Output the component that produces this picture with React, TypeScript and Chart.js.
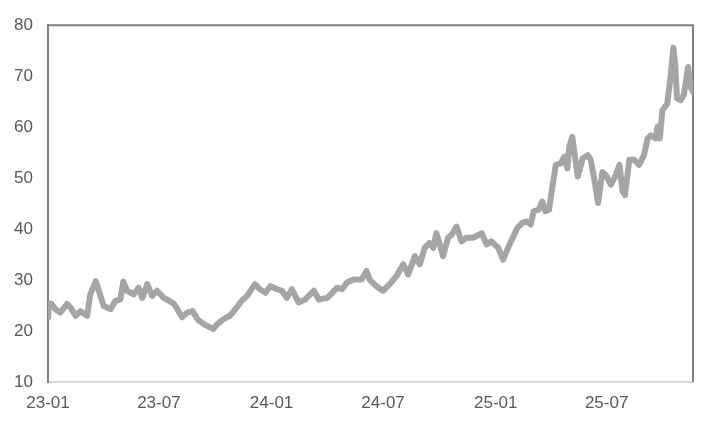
import React, { useEffect, useRef } from "react";
import { Chart, registerables } from "chart.js";

Chart.register(...registerables);

const dates: string[] = [
  "2023-01-01", "2023-01-03", "2023-01-06", "2023-01-13", "2023-01-21", "2023-02-01", "2023-02-07", "2023-02-15",
  "2023-02-23", "2023-03-06", "2023-03-11", "2023-03-20", "2023-03-25", "2023-04-02", "2023-04-13", "2023-04-21",
  "2023-04-29", "2023-05-04", "2023-05-10", "2023-05-21", "2023-05-29", "2023-06-04", "2023-06-12", "2023-06-20",
  "2023-06-28", "2023-07-09", "2023-07-18", "2023-07-26", "2023-08-08", "2023-08-16", "2023-08-25", "2023-09-02",
  "2023-09-13", "2023-09-28", "2023-10-04", "2023-10-14", "2023-10-25", "2023-11-05", "2023-11-13", "2023-11-22",
  "2023-12-05", "2023-12-13", "2023-12-22", "2023-12-30", "2024-01-10", "2024-01-18", "2024-01-26", "2024-02-03",
  "2024-02-14", "2024-02-25", "2024-03-10", "2024-03-18", "2024-04-01", "2024-04-09", "2024-04-17", "2024-04-25",
  "2024-05-03", "2024-05-14", "2024-05-27", "2024-06-04", "2024-06-09", "2024-06-20", "2024-07-01", "2024-07-12",
  "2024-07-23", "2024-08-03", "2024-08-11", "2024-08-22", "2024-08-30", "2024-09-07", "2024-09-15", "2024-09-21",
  "2024-09-26", "2024-10-07", "2024-10-15", "2024-10-21", "2024-10-29", "2024-11-06", "2024-11-14", "2024-11-25",
  "2024-12-09", "2024-12-17", "2024-12-25", "2025-01-05", "2025-01-13", "2025-01-22", "2025-01-31", "2025-02-05",
  "2025-02-13", "2025-02-21", "2025-02-27", "2025-03-04", "2025-03-12", "2025-03-18", "2025-03-23", "2025-03-29",
  "2025-04-03", "2025-04-09", "2025-04-17", "2025-04-23", "2025-04-28", "2025-05-01", "2025-05-06", "2025-05-10",
  "2025-05-15", "2025-05-23", "2025-05-31", "2025-06-05", "2025-06-11", "2025-06-17", "2025-06-24", "2025-06-30",
  "2025-07-08", "2025-07-16", "2025-07-22", "2025-07-27", "2025-07-31", "2025-08-07", "2025-08-15", "2025-08-23",
  "2025-08-31", "2025-09-06", "2025-09-11", "2025-09-19", "2025-09-22", "2025-09-26", "2025-09-30", "2025-10-08",
  "2025-10-13", "2025-10-18", "2025-10-21", "2025-10-24", "2025-10-30", "2025-11-04", "2025-11-11", "2025-11-15",
  "2025-11-19",
];

const values: number[] = [
  22.6, 25.2, 25.4, 24.3, 23.6, 25.3, 24.6, 23.0,
  23.9, 23.0, 27.2, 29.8, 27.9, 24.9, 24.3, 25.9,
  26.2, 29.7, 27.9, 27.2, 28.5, 26.5, 29.2, 26.9,
  27.9, 26.5, 25.9, 25.3, 22.7, 23.6, 23.9, 22.3,
  21.3, 20.4, 21.3, 22.3, 23.0, 24.6, 25.9, 26.9,
  29.2, 28.2, 27.5, 28.8, 28.2, 27.9, 26.5, 28.2,
  25.6, 26.2, 27.9, 26.2, 26.5, 27.5, 28.5, 28.2,
  29.5, 30.1, 30.1, 31.8, 30.1, 28.8, 27.9, 29.2,
  30.8, 33.1, 31.1, 34.7, 33.1, 36.3, 37.3, 36.3,
  39.2, 34.7, 38.3, 38.9, 40.5, 37.6, 38.3, 38.3,
  39.2, 37.0, 37.6, 36.3, 34.0, 36.6, 38.9, 40.2,
  41.2, 41.5, 40.9, 43.5, 43.8, 45.4, 43.5, 43.8,
  48.0, 52.6, 52.9, 54.2, 51.9, 56.2, 58.1, 54.5,
  50.3, 53.9, 54.5, 53.6, 49.7, 45.1, 51.2, 50.6,
  48.7, 50.6, 52.6, 47.4, 46.7, 53.6, 53.6, 52.6,
  54.5, 57.8, 58.4, 57.8, 60.1, 57.8, 63.3, 64.6,
  69.5, 75.6, 72.1, 65.6, 65.3, 66.3, 71.8, 67.9,
  66.9,
];

const tickDates: string[] = ["2023-01-01", "2023-07-01", "2024-01-01", "2024-07-01", "2025-01-01", "2025-07-01"];
const tickLabels: string[] = ["23-01", "23-07", "24-01", "24-07", "25-01", "25-07"];

const yMin = 10;
const yMax = 80;
const yStep = 10;

const DAY = 86400000;
const origin = Date.UTC(2023, 0, 1);
const dayOf = (s: string) => {
  const [y, m, d] = s.split("-").map(Number);
  return Math.round((Date.UTC(y, m - 1, d) - origin) / DAY);
};

const framePlugin = {
  id: "frame",
  beforeDatasetsDraw(chart: any) {
    const { ctx, chartArea } = chart;
    ctx.save();
    ctx.strokeStyle = "#808080";
    ctx.lineWidth = 2;
    ctx.beginPath();
    ctx.moveTo(chartArea.left, chartArea.top);
    ctx.lineTo(chartArea.right, chartArea.top);
    ctx.lineTo(chartArea.right, chartArea.bottom);
    ctx.stroke();
    ctx.restore();
  },
};

export default function App() {
  const ref = useRef<HTMLCanvasElement | null>(null);

  useEffect(() => {
    document.body.style.margin = "0";
    if (!ref.current) return;
    const points = dates.map((d, i) => ({ x: dayOf(d), y: values[i] }));
    const tickVals = tickDates.map(dayOf);
    const font = { family: "'Liberation Sans', Arial, sans-serif", size: 17 };
    const chart = new Chart(ref.current, {
      type: "line",
      data: {
        datasets: [
          {
            data: points,
            borderColor: "#a5a5a5",
            borderWidth: 6,
            pointRadius: 0,
            tension: 0,
            borderJoinStyle: "round",
            borderCapStyle: "round",
          },
        ],
      },
      options: {
        animation: false,
        responsive: false,
        maintainAspectRatio: false,
        layout: { padding: { left: 0, top: 23, right: 23, bottom: 0 } },
        plugins: { legend: { display: false }, tooltip: { enabled: false } },
        scales: {
          x: {
            type: "linear",
            min: 0,
            max: points[points.length - 1].x,
            grid: { display: false, drawTicks: false },
            border: { display: true, color: "#d9d9d9", width: 2 },
            afterBuildTicks: (axis: any) => {
              axis.ticks = tickVals.map((v) => ({ value: v }));
            },
            afterFit: (axis: any) => {
              axis.height = 45;
            },
            ticks: {
              autoSkip: false,
              maxRotation: 0,
              padding: 11,
              color: "#595959",
              font,
              callback: (v: any) => {
                const i = tickVals.indexOf(Number(v));
                return i >= 0 ? tickLabels[i] : "";
              },
            },
          },
          y: {
            min: yMin,
            max: yMax,
            grid: { display: false, drawTicks: false },
            border: { display: true, color: "#808080", width: 2 },
            afterFit: (axis: any) => {
              axis.width = 48;
            },
            ticks: { stepSize: yStep, padding: 15, color: "#595959", font },
          },
        },
      },
      plugins: [framePlugin],
    } as any);
    return () => chart.destroy();
  }, []);

  return <canvas ref={ref} width={716} height={427} style={{ display: "block" }} />;
}
